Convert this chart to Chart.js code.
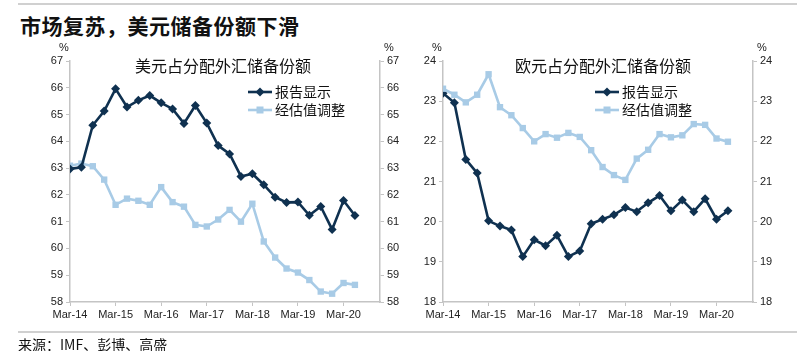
<!DOCTYPE html>
<html>
<head>
<meta charset="utf-8">
<script src="https://cdn.jsdelivr.net/npm/chart.js@4"></script>
<style>
    html, body { margin: 0; padding: 0; background: #fff; }
    body { width: 800px; height: 351px; position: relative; overflow: hidden; }
    .rule { position: absolute; left: 18px; width: 779px; height: 2px; background: #d0d0d0; }
    h1 {
        position: absolute; left: 20px; top: 10px; margin: 0;
        font: 600 21px "Noto Sans CJK SC", sans-serif; color: #111; letter-spacing: 0.5px;
    }
    .source {
        position: absolute; left: 18px; top: 334px;
        font: 14px "Noto Sans CJK SC", sans-serif; color: #111;
    }
    canvas { position: absolute; top: 0; }
</style>
</head>
<body>
<div class="rule" style="top:3px"></div>
<h1>市场复苏，美元储备份额下滑</h1>
<canvas id="usd" style="left:0" width="400" height="351"></canvas>
<canvas id="eur" style="left:400px" width="400" height="351"></canvas>
<div class="rule" style="top:331px"></div>
<div class="source">来源：IMF、彭博、高盛</div>
<script>
// quarterly, Mar-14 .. Jun-20
const quarters = [
    'Mar-14', 'Jun-14', 'Sep-14', 'Dec-14', 'Mar-15', 'Jun-15', 'Sep-15', 'Dec-15',
    'Mar-16', 'Jun-16', 'Sep-16', 'Dec-16', 'Mar-17', 'Jun-17', 'Sep-17', 'Dec-17',
    'Mar-18', 'Jun-18', 'Sep-18', 'Dec-18', 'Mar-19', 'Jun-19', 'Sep-19', 'Dec-19',
    'Mar-20', 'Jun-20'
]
const yearTicks = ['Mar-14', 'Mar-15', 'Mar-16', 'Mar-17', 'Mar-18', 'Mar-19', 'Mar-20']

const usdReported = [
    62.97, 63.03, 64.60, 65.13, 65.96, 65.28, 65.53, 65.71, 65.44, 65.21, 64.67, 65.34, 64.68,
    63.84, 63.53, 62.69, 62.79, 62.38, 61.91, 61.72, 61.73, 61.24, 61.57, 60.71, 61.79, 61.23
]
const usdAdjusted = [
    63.09, 63.17, 63.07, 62.57, 61.63, 61.86, 61.78, 61.63, 62.29, 61.73, 61.56, 60.88, 60.82,
    61.08, 61.44, 61.00, 61.67, 60.26, 59.66, 59.25, 59.10, 58.82, 58.39, 58.31, 58.71, 58.64
]
const eurReported = [
    23.20, 22.96, 21.55, 21.21, 20.02, 19.89, 19.79, 19.13, 19.55, 19.40, 19.66, 19.13, 19.27,
    19.95, 20.06, 20.17, 20.35, 20.25, 20.47, 20.65, 20.27, 20.54, 20.25, 20.57, 20.06, 20.27
]
const eurAdjusted = [
    23.31, 23.16, 22.97, 23.16, 23.67, 22.85, 22.65, 22.33, 22.00, 22.18, 22.09, 22.21, 22.11,
    21.78, 21.36, 21.16, 21.04, 21.57, 21.79, 22.18, 22.10, 22.15, 22.43, 22.41, 22.07, 21.99
]

const DARK = '#0f3150'
const LIGHT = '#a8cbe6'
const AXIS = '#c4c4c4'
const TEXT = '#222'
const tickFont = { family: 'Arial, "Liberation Sans", sans-serif', size: 11 }

// title, legend and the two % signs, drawn relative to the chart area
const panelDecor = {
    id: 'panelDecor',
    afterDraw(chart, args, opts) {
        const { ctx, chartArea: a } = chart
        ctx.save()
        ctx.fillStyle = TEXT
        ctx.font = tickFont.size + 'px ' + tickFont.family
        ctx.textAlign = 'center'
        ctx.textBaseline = 'bottom'
        ctx.fillText('%', a.left - 6, a.top - 8)
        ctx.fillText('%', a.right + 9, a.top - 8)

        ctx.font = '16px "Noto Sans CJK SC", sans-serif'
        ctx.textBaseline = 'middle'
        ctx.fillStyle = '#111'
        ctx.fillText(opts.title, a.left + opts.titleX, a.top + 5)

        ctx.font = '14px "Noto Sans CJK SC", sans-serif'
        ctx.textAlign = 'left'
        chart.data.datasets.forEach((ds, i) => {
            const x = a.left + opts.legendX
            const y = a.top + 31 + i * 18
            ctx.strokeStyle = ds.borderColor
            ctx.lineWidth = ds.borderWidth
            ctx.beginPath()
            ctx.moveTo(x, y)
            ctx.lineTo(x + 24, y)
            ctx.stroke()
            ctx.fillStyle = ds.pointBackgroundColor
            ctx.save()
            ctx.translate(x + 12, y)
            if (ds.pointStyle === 'rectRot') ctx.rotate(Math.PI / 4)
            const s = ds.pointStyle === 'rectRot' ? 3.2 : 3.5
            ctx.fillRect(-s, -s, s * 2, s * 2)
            ctx.restore()
            ctx.fillStyle = '#111'
            ctx.fillText(ds.label, x + 27, y)
        })
        ctx.restore()
    }
}

function makePanel(canvasId, reported, adjusted, cfg) {
    const yAxis = (position, width) => ({
        type: 'linear',
        position,
        min: cfg.min,
        max: cfg.max,
        afterFit: axis => { axis.width = width },
        ticks: { stepSize: 1, color: TEXT, font: tickFont, padding: 3 },
        grid: { drawOnChartArea: false, drawTicks: true, tickLength: 4, color: AXIS },
        border: { display: true, color: AXIS, width: 1.5 }
    })

    return new Chart(document.getElementById(canvasId), {
        type: 'line',
        data: {
            datasets: [
                {
                    label: '报告显示',
                    data: reported.map((v, i) => ({ x: i, y: v })),
                    borderColor: DARK,
                    backgroundColor: DARK,
                    pointBackgroundColor: DARK,
                    pointBorderColor: DARK,
                    borderWidth: 2.6,
                    pointStyle: 'rectRot',
                    pointRadius: 4.5,
                    pointBorderWidth: 0,
                    tension: 0,
                    order: 1
                },
                {
                    label: '经估值调整',
                    data: adjusted.map((v, i) => ({ x: i, y: v })),
                    borderColor: LIGHT,
                    backgroundColor: LIGHT,
                    pointBackgroundColor: LIGHT,
                    pointBorderColor: LIGHT,
                    borderWidth: 2.6,
                    pointStyle: 'rect',
                    pointRadius: 4.5,
                    pointBorderWidth: 0,
                    tension: 0,
                    order: cfg.lightOnTop ? 0 : 2
                }
            ]
        },
        options: {
            responsive: false,
            animation: false,
            layout: { padding: { top: 61, left: 0, right: 0, bottom: 0 } },
            plugins: {
                legend: { display: false },
                tooltip: { enabled: false },
                panelDecor: { title: cfg.title, titleX: cfg.titleX, legendX: cfg.legendX }
            },
            scales: {
                x: {
                    type: 'linear',
                    min: 0,
                    max: 27.2,
                    afterFit: axis => { axis.height = 49 },
                    afterBuildTicks: axis => {
                        axis.ticks = yearTicks.map(label => ({ value: quarters.indexOf(label) }))
                    },
                    ticks: {
                        color: TEXT,
                        font: tickFont,
                        padding: 2,
                        maxRotation: 0,
                        callback: value => quarters[value]
                    },
                    grid: { drawOnChartArea: false, drawTicks: true, tickLength: 4, color: AXIS },
                    border: { display: true, color: AXIS, width: 1.5 }
                },
                y: yAxis('left', cfg.leftWidth),
                y2: yAxis('right', cfg.rightWidth)
            }
        },
        plugins: [panelDecor]
    })
}

makePanel('usd', usdReported, usdAdjusted, {
    min: 58, max: 67, leftWidth: 70, rightWidth: 20,
    title: '美元占分配外汇储备份额', titleX: 153, legendX: 178, lightOnTop: false
})
makePanel('eur', eurReported, eurAdjusted, {
    min: 18, max: 24, leftWidth: 43, rightWidth: 47,
    title: '欧元占分配外汇储备份额', titleX: 160, legendX: 152, lightOnTop: true
})
</script>
</body>
</html>
